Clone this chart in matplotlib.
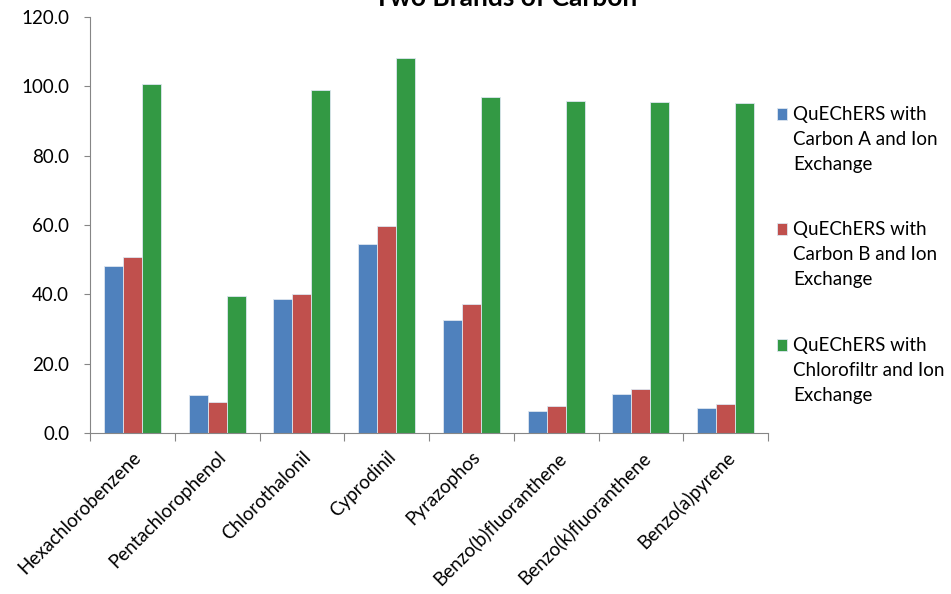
import numpy as np
import matplotlib.pyplot as plt
from matplotlib.patches import Rectangle
from matplotlib.container import BarContainer
from matplotlib.legend_handler import HandlerPatch, update_from_first_child

plt.rcParams['font.family'] = ['Lato', 'DejaVu Sans']

compounds = ["Hexachlorobenzene", "Pentachlorophenol", "Chlorothalonil", "Cyprodinil",
             "Pyrazophos", "Benzo(b)fluoranthene", "Benzo(k)fluoranthene", "Benzo(a)pyrene"]
carbon_a = [48.2, 11.0, 38.7, 54.4, 32.6, 6.3, 11.2, 7.3]
carbon_b = [50.7, 8.8, 40.1, 59.7, 37.1, 7.7, 12.7, 8.4]
chlorofiltr = [100.6, 39.5, 98.9, 108.1, 96.9, 95.7, 95.6, 95.1]
series_names = ["QuEChERS with\nCarbon A and Ion\nExchange",
                "QuEChERS with\nCarbon B and Ion\nExchange",
                "QuEChERS with\nChlorofiltr and Ion\nExchange"]
colors = ["#4f81bd", "#c0504d", "#339944"]

FS = 13.5
LINESP = 1.56
LINE_GAP_PT = 18.7  # ~25 px between legend text lines

fig = plt.figure(figsize=(9.51, 5.94), dpi=100)
ax = fig.add_axes([90 / 951, 1 - 433 / 594, 678 / 951, 416 / 594])

x = np.arange(len(compounds))
w = 0.224
for i, (vals, name, c) in enumerate(zip([carbon_a, carbon_b, chlorofiltr], series_names, colors)):
    ax.bar(x + (i - 1) * w, vals, width=w, color=c, edgecolor="#dde6f0", linewidth=0.6, label=name)

ax.set_xlim(-0.5, len(compounds) - 0.5)
ax.set_ylim(0, 120)
ax.set_yticks(np.arange(0, 121, 20))
ax.set_yticklabels([f"{v:.1f}" for v in np.arange(0, 121, 20)], fontsize=FS)

ax.set_xticks(np.arange(-0.5, len(compounds), 1.0))
ax.set_xticklabels([])
ax.set_xticks(x, minor=True)
ax.set_xticklabels(compounds, minor=True, rotation=45, ha="right", rotation_mode="anchor", fontsize=FS)
ax.tick_params(axis="x", which="minor", length=0, pad=11)
ax.tick_params(axis="x", which="major", length=6, color="#868686")
ax.tick_params(axis="y", length=4, color="#868686", pad=11)

for s in ["top", "right"]:
    ax.spines[s].set_visible(False)
for s in ["left", "bottom"]:
    ax.spines[s].set_color("#868686")

fig.text(506 / 951, 1 - 6 / 594, "Two Brands of Carbon", ha="center", va="baseline",
         fontsize=19, fontweight="bold")


# put the legend square next to the first line of its label
def top_square(legend, orig_handle, xdescent, ydescent, width, height, fontsize):
    return Rectangle((-xdescent, -ydescent + LINE_GAP_PT), width, height)


leg = ax.legend(loc="upper left", bbox_to_anchor=(777 / 951, 1 - 106 / 594),
                bbox_transform=fig.transFigure, frameon=False, fontsize=FS,
                borderpad=0, borderaxespad=0,
                handlelength=0.53, handleheight=0.6, handletextpad=0.32, labelspacing=2.6,
                handler_map={BarContainer: HandlerPatch(patch_func=top_square,
                                                        update_func=update_from_first_child)})
for t in leg.get_texts():
    t.set_linespacing(LINESP)

fig.savefig("out.png", dpi=100)
